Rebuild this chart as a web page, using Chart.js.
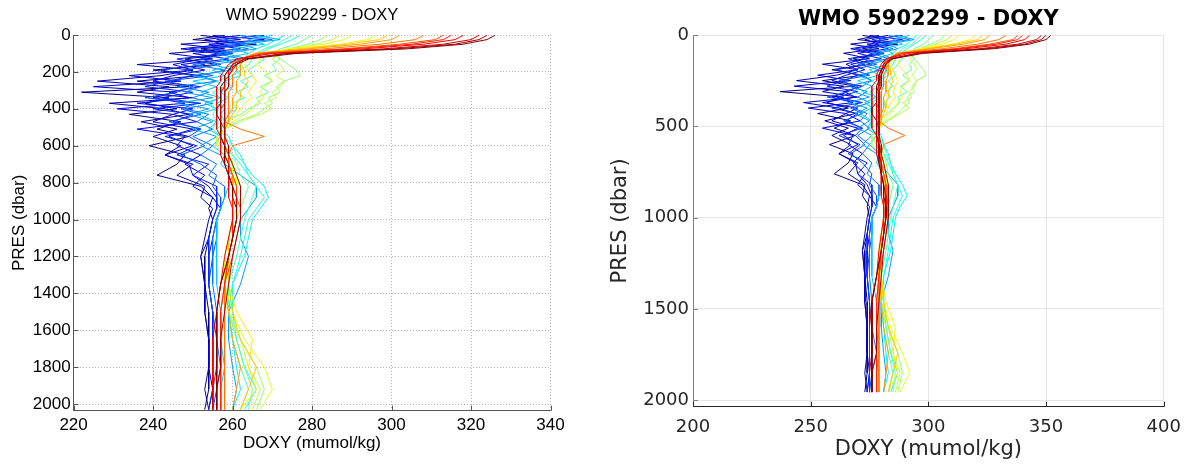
<!DOCTYPE html>
<html>
<head>
<meta charset="utf-8">
<script src="https://cdn.jsdelivr.net/npm/chart.js@4"></script>
<style>
  body { margin: 0; background: #fff; }
  #wrap { position: relative; width: 1191px; height: 467px; }
  canvas { position: absolute; top: 0; }
</style>
</head>
<body>
<div id="wrap">
  <canvas id="leftChart" width="600" height="467" style="left:0"></canvas>
  <canvas id="rightChart" width="591" height="467" style="left:600px"></canvas>
</div>
<script>
// pressure levels (dbar) of each profile
const PRES_L = [2, 25, 50, 75, 100, 130, 160, 190, 220, 250, 280, 310, 340, 370, 400, 430, 470, 510, 550, 600, 650, 700, 760, 820, 880, 940, 1000, 1100, 1200, 1350, 1500, 1650, 1800, 1920, 2030];
const PRES_R = [2, 25, 50, 75, 100, 130, 160, 190, 220, 250, 280, 310, 340, 370, 400, 430, 470, 510, 550, 600, 650, 700, 760, 820, 880, 940, 1000, 1090, 1180, 1320, 1460, 1600, 1740, 1850, 1955];

// left panel, DOXY per cycle (first cycle = dark blue, last = dark red)
const L01 = [258, 250, 266, 252, 260, 248, 256, 240, 252, 236, 249, 222, 244, 238, 246, 234, 247, 241, 249, 239, 248, 246, 241, 252, 255, 254, 255, 254, 253, 253, 254, 254, 254, 254, 253];
const L02 = [252, 262, 247, 258, 244, 255, 236, 250, 242, 226, 244, 236, 250, 229, 243, 249, 237, 246, 240, 247, 243, 250, 246, 253, 252, 255, 254, 253, 252, 253, 253, 254, 254, 253, 254];
const L03 = [262, 253, 258, 247, 256, 252, 245, 250, 234, 247, 225, 246, 240, 248, 231, 245, 240, 250, 244, 250, 243, 249, 250, 254, 256, 256, 255, 254, 252, 253, 253, 254, 254, 255, 254];
const L04 = [255, 268, 254, 262, 250, 259, 247, 253, 245, 240, 252, 244, 249, 236, 250, 245, 251, 236, 248, 246, 252, 248, 253, 250, 255, 257, 256, 255, 254, 254, 255, 255, 255, 255, 255];
const L05 = [268, 256, 262, 249, 258, 246, 253, 242, 250, 244, 238, 250, 242, 252, 240, 250, 245, 252, 243, 251, 246, 254, 250, 256, 256, 256, 255, 254, 254, 254, 255, 255, 255, 255, 254];
const L06 = [266, 258, 263, 255, 260, 252, 257, 248, 255, 243, 250, 246, 238, 251, 247, 252, 244, 252, 249, 253, 247, 252, 256, 255, 257, 257, 256, 256, 255, 254, 255, 256, 256, 256, 255];
const L07 = [262, 270, 258, 264, 256, 262, 250, 258, 252, 256, 246, 254, 250, 255, 248, 254, 251, 255, 250, 255, 252, 256, 254, 258, 258, 257, 256, 255, 255, 255, 256, 256, 257, 256, 256];
const L08 = [266, 272, 262, 266, 258, 264, 255, 260, 250, 256, 252, 248, 255, 246, 254, 249, 255, 250, 256, 252, 257, 258, 262, 266, 266, 264, 262, 262, 264, 262, 259, 259, 260, 261, 260];
const L09 = [270, 264, 268, 260, 264, 257, 261, 255, 258, 250, 256, 252, 257, 253, 256, 251, 256, 254, 257, 255, 258, 257, 260, 259, 258, 257, 256, 256, 256, 256, 257, 257, 258, 257, 257];
const L10 = [273, 271, 269, 266, 264, 263, 262, 261, 262, 258, 260, 257, 259, 256, 258, 257, 258, 257, 259, 260, 262, 263, 265, 268, 269, 267, 265, 264, 263, 260, 259, 260, 261, 262, 260];
const L11 = [277, 275, 272, 269, 267, 265, 264, 262, 260, 256, 258, 255, 257, 254, 256, 255, 256, 255, 257, 258, 260, 262, 264, 266, 268, 266, 264, 263, 262, 260, 260, 261, 263, 266, 263];
const L12 = [275, 273, 271, 268, 266, 268, 266, 264, 265, 262, 264, 261, 263, 260, 261, 259, 258, 257, 258, 260, 261, 263, 264, 266, 265, 264, 263, 262, 261, 259, 259, 260, 262, 264, 262];
const L13 = [280, 278, 276, 272, 270, 272, 270, 271, 268, 270, 267, 269, 266, 267, 264, 262, 258, 256, 257, 258, 260, 261, 262, 264, 263, 262, 261, 260, 259, 258, 259, 261, 263, 265, 264];
const L14 = [284, 282, 279, 274, 271, 272, 274, 276, 277, 273, 271, 272, 269, 270, 268, 266, 261, 258, 256, 257, 259, 260, 261, 262, 262, 261, 260, 259, 258, 258, 259, 262, 266, 268, 266];
const L15 = [287, 285, 281, 276, 272, 270, 272, 273, 271, 273, 272, 270, 271, 268, 270, 267, 262, 258, 256, 256, 258, 260, 260, 262, 262, 262, 261, 260, 259, 258, 259, 262, 264, 267, 265];
const L16 = [290, 288, 283, 274, 268, 267, 266, 268, 269, 270, 268, 267, 268, 266, 265, 263, 260, 258, 257, 258, 259, 260, 261, 261, 261, 260, 260, 259, 258, 258, 260, 263, 268, 270, 267];
const L17 = [296, 294, 287, 276, 266, 264, 263, 264, 265, 266, 265, 264, 265, 263, 262, 261, 259, 258, 258, 258, 259, 259, 260, 260, 260, 260, 260, 259, 259, 259, 261, 265, 264, 266, 262];
const L18 = [299, 297, 289, 277, 265, 263, 262, 263, 263, 264, 263, 262, 262, 261, 261, 260, 259, 258, 258, 258, 259, 259, 260, 261, 261, 260, 260, 259, 259, 259, 260, 262, 266, 264, 262];
const L19 = [302, 300, 292, 279, 266, 263, 262, 262, 262, 261, 261, 261, 260, 260, 260, 259, 259, 258, 258, 258, 259, 259, 260, 260, 261, 261, 261, 260, 259, 258, 259, 260, 262, 261, 260];
const L20 = [308, 306, 297, 283, 266, 262, 261, 261, 260, 260, 260, 259, 259, 259, 259, 259, 258, 262, 268, 260, 259, 259, 260, 261, 261, 261, 261, 260, 259, 258, 258, 258, 258, 258, 258];
const L21 = [313, 311, 302, 288, 268, 262, 260, 260, 259, 259, 259, 258, 258, 258, 258, 258, 258, 258, 258, 258, 259, 259, 260, 261, 261, 262, 262, 261, 260, 258, 257, 257, 257, 257, 257];
const L22 = [315, 313, 305, 290, 268, 261, 260, 259, 259, 258, 258, 258, 258, 258, 257, 257, 257, 258, 258, 258, 258, 259, 259, 260, 260, 260, 260, 260, 259, 258, 257, 257, 257, 257, 257];
const L23 = [318, 316, 308, 293, 270, 261, 259, 258, 257, 257, 256, 256, 256, 256, 256, 256, 256, 256, 257, 257, 257, 258, 259, 259, 259, 260, 260, 259, 258, 257, 256, 255, 255, 255, 255];
const L24 = [322, 320, 313, 298, 273, 263, 260, 259, 258, 258, 258, 257, 257, 257, 257, 257, 257, 257, 257, 258, 258, 259, 259, 260, 261, 261, 261, 260, 259, 257, 256, 256, 256, 255, 255];
const L25 = [324, 322, 316, 301, 274, 263, 261, 260, 259, 259, 259, 258, 258, 258, 258, 258, 258, 258, 258, 259, 259, 260, 261, 262, 262, 262, 262, 261, 260, 259, 258, 257, 257, 256, 256];
const L26 = [326, 324, 318, 304, 276, 264, 261, 259, 258, 258, 257, 257, 257, 257, 256, 256, 257, 257, 257, 258, 258, 258, 259, 260, 260, 261, 261, 260, 259, 257, 256, 256, 256, 256, 256];

// right panel, DOXY per cycle
const R01 = [279, 270, 287, 272, 281, 268, 276, 259, 272, 255, 269, 237, 264, 257, 266, 253, 267, 260, 269, 258, 268, 266, 260, 272, 275, 274, 275, 274, 273, 273, 274, 274, 274, 274, 273];
const R02 = [272, 283, 267, 279, 264, 275, 255, 270, 261, 244, 264, 255, 270, 247, 262, 269, 256, 266, 259, 267, 262, 270, 266, 273, 272, 275, 274, 273, 272, 273, 273, 274, 274, 273, 274];
const R03 = [283, 273, 279, 267, 276, 272, 265, 270, 253, 267, 243, 266, 259, 268, 249, 265, 259, 270, 264, 270, 262, 269, 270, 274, 276, 276, 275, 274, 272, 273, 273, 274, 274, 275, 274];
const R04 = [275, 289, 274, 283, 270, 280, 267, 273, 265, 259, 272, 264, 269, 255, 270, 265, 271, 255, 268, 266, 272, 268, 273, 270, 275, 278, 276, 275, 274, 274, 275, 275, 275, 275, 275];
const R05 = [289, 276, 283, 269, 279, 266, 273, 261, 270, 264, 257, 270, 261, 272, 259, 270, 265, 272, 262, 271, 266, 274, 270, 276, 276, 276, 275, 274, 274, 274, 275, 275, 275, 275, 274];
const R06 = [287, 279, 284, 275, 281, 272, 278, 268, 275, 262, 270, 266, 257, 271, 267, 272, 264, 272, 269, 273, 267, 272, 276, 275, 278, 278, 276, 276, 275, 274, 275, 276, 276, 276, 275];
const R07 = [283, 292, 279, 285, 276, 283, 270, 279, 272, 276, 266, 274, 270, 275, 268, 274, 271, 275, 270, 275, 272, 276, 274, 279, 279, 278, 276, 275, 275, 275, 276, 276, 278, 276, 276];
const R08 = [287, 294, 283, 287, 279, 285, 275, 281, 270, 276, 272, 268, 275, 266, 274, 269, 275, 270, 276, 272, 278, 279, 283, 287, 287, 285, 283, 283, 285, 283, 280, 280, 281, 282, 281];
const R09 = [292, 285, 289, 281, 285, 278, 282, 275, 279, 270, 276, 272, 278, 273, 276, 271, 276, 274, 278, 275, 279, 278, 281, 280, 279, 278, 276, 276, 276, 276, 278, 278, 279, 278, 278];
const R10 = [295, 293, 291, 287, 285, 284, 283, 282, 283, 279, 281, 278, 280, 276, 279, 278, 279, 278, 280, 281, 283, 284, 286, 289, 291, 288, 286, 285, 284, 281, 280, 281, 282, 283, 281];
const R11 = [299, 297, 294, 291, 288, 286, 285, 283, 281, 276, 279, 275, 278, 274, 276, 275, 276, 275, 278, 279, 281, 283, 285, 287, 289, 287, 285, 284, 283, 281, 281, 282, 284, 287, 284];
const R12 = [297, 295, 293, 289, 287, 289, 287, 285, 286, 283, 285, 282, 284, 281, 282, 280, 279, 278, 279, 281, 282, 284, 285, 287, 286, 285, 284, 283, 282, 280, 280, 281, 283, 285, 283];
const R13 = [302, 300, 298, 294, 292, 294, 292, 293, 289, 292, 288, 291, 287, 288, 285, 283, 279, 276, 278, 279, 281, 282, 283, 285, 284, 283, 282, 281, 280, 279, 280, 282, 284, 286, 285];
const R14 = [307, 305, 301, 296, 293, 294, 296, 298, 299, 295, 293, 294, 291, 292, 289, 287, 282, 279, 276, 278, 280, 281, 282, 283, 283, 282, 281, 280, 279, 279, 280, 283, 287, 289, 287];
const R15 = [310, 308, 303, 298, 294, 292, 294, 295, 293, 295, 294, 292, 293, 289, 292, 288, 283, 279, 276, 276, 279, 281, 281, 283, 283, 283, 282, 281, 280, 279, 280, 283, 285, 288, 286];
const R16 = [313, 311, 306, 296, 289, 288, 287, 289, 291, 292, 289, 288, 289, 287, 286, 284, 281, 279, 278, 279, 280, 281, 282, 282, 282, 281, 281, 280, 279, 279, 281, 284, 289, 292, 288];
const R17 = [320, 318, 310, 298, 287, 285, 284, 285, 286, 287, 286, 285, 286, 284, 283, 282, 280, 279, 279, 279, 280, 280, 281, 281, 281, 281, 281, 280, 280, 280, 282, 286, 285, 287, 283];
const R18 = [323, 321, 312, 299, 286, 284, 283, 284, 284, 285, 284, 283, 283, 282, 282, 281, 280, 279, 279, 279, 280, 280, 281, 282, 282, 281, 281, 280, 280, 280, 281, 283, 287, 285, 283];
const R19 = [326, 324, 315, 301, 287, 284, 283, 283, 283, 282, 282, 282, 281, 281, 281, 280, 280, 279, 279, 279, 280, 280, 281, 281, 282, 282, 282, 281, 280, 279, 280, 281, 283, 282, 281];
const R20 = [333, 330, 321, 306, 287, 283, 282, 282, 281, 281, 281, 280, 280, 280, 280, 280, 279, 283, 290, 281, 280, 280, 281, 282, 282, 282, 282, 281, 280, 279, 279, 279, 279, 279, 279];
const R21 = [338, 336, 326, 311, 289, 283, 281, 281, 280, 280, 280, 279, 279, 279, 279, 279, 279, 279, 279, 279, 280, 280, 281, 282, 282, 283, 283, 282, 281, 279, 278, 278, 278, 278, 278];
const R22 = [340, 338, 329, 313, 289, 282, 281, 280, 280, 279, 279, 279, 279, 279, 278, 278, 278, 279, 279, 279, 279, 280, 280, 281, 281, 281, 281, 281, 280, 279, 278, 278, 278, 278, 278];
const R23 = [343, 341, 333, 316, 292, 282, 280, 279, 278, 278, 276, 276, 276, 276, 276, 276, 276, 276, 278, 278, 278, 279, 280, 280, 280, 281, 281, 280, 279, 278, 276, 275, 275, 275, 275];
const R24 = [348, 346, 338, 322, 295, 284, 281, 280, 279, 279, 279, 278, 278, 278, 278, 278, 278, 278, 278, 279, 279, 280, 280, 281, 282, 282, 282, 281, 280, 278, 276, 276, 276, 275, 275];
const R25 = [350, 348, 341, 325, 296, 284, 282, 281, 280, 280, 280, 279, 279, 279, 279, 279, 279, 279, 279, 280, 280, 281, 282, 283, 283, 283, 283, 282, 281, 280, 279, 278, 278, 276, 276];
const R26 = [352, 350, 343, 328, 298, 285, 282, 280, 279, 279, 278, 278, 278, 278, 276, 276, 278, 278, 278, 279, 279, 279, 280, 281, 281, 282, 282, 281, 280, 278, 276, 276, 276, 276, 276];

const LEFT_PROFILES = [L01, L02, L03, L04, L05, L06, L07, L08, L09, L10, L11, L12, L13, L14, L15, L16, L17, L18, L19, L20, L21, L22, L23, L24, L25, L26];
const RIGHT_PROFILES = [R01, R02, R03, R04, R05, R06, R07, R08, R09, R10, R11, R12, R13, R14, R15, R16, R17, R18, R19, R20, R21, R22, R23, R24, R25, R26];

// tick labels
const X_TICKS_L = [220, 240, 260, 280, 300, 320, 340];
const Y_TICKS_L = [0, 200, 400, 600, 800, 1000, 1200, 1400, 1600, 1800, 2000];
const X_TICKS_R = [200, 250, 300, 350, 400];
const Y_TICKS_R = [0, 500, 1000, 1500, 2000];

const TITLE = 'WMO 5902299 - DOXY';
const X_LABEL = 'DOXY (mumol/kg)';
const Y_LABEL = 'PRES (dbar)';

// matlab jet colormap
function jet(t) {
    const c = v => Math.round(255 * Math.max(0, Math.min(1, v)));
    return 'rgb(' + c(1.5 - Math.abs(4 * t - 3)) + ',' + c(1.5 - Math.abs(4 * t - 2)) + ',' + c(1.5 - Math.abs(4 * t - 1)) + ')';
}

function buildDatasets(profiles, pres) {
    const n = profiles.length;
    return profiles.map((prof, i) => ({
        data: prof.map((v, k) => ({ x: v, y: pres[k] })),
        borderColor: jet(i / (n - 1)),
        borderWidth: 1,
        pointRadius: 0,
        showLine: true,
        order: n - 1 - i   // later cycles drawn on top
    }));
}

// tick marks drawn inward, like matlab
const innerTicks = {
    id: 'innerTicks',
    afterDraw(chart, args, opts) {
        const { ctx, chartArea: a, scales: { x, y } } = chart;
        ctx.save();
        ctx.lineWidth = 1;
        ctx.strokeStyle = opts.xColor;
        ctx.beginPath();
        x.ticks.forEach(t => {
            const px = Math.round(x.getPixelForValue(t.value)) + 0.5;
            ctx.moveTo(px, a.bottom);
            ctx.lineTo(px, a.bottom - opts.len);
        });
        ctx.stroke();
        ctx.strokeStyle = opts.yColor;
        ctx.beginPath();
        y.ticks.forEach(t => {
            const py = Math.round(y.getPixelForValue(t.value)) + 0.5;
            ctx.moveTo(a.left, py);
            ctx.lineTo(a.left + opts.len, py);
        });
        ctx.stroke();
        ctx.restore();
    }
};

function makeChart(id, cfg) {
    const fam = cfg.family;
    return new Chart(document.getElementById(id), {
        type: 'scatter',
        data: { datasets: buildDatasets(cfg.profiles, cfg.pres) },
        plugins: [innerTicks],
        options: {
            responsive: false,
            animation: false,
            events: [],
            layout: { padding: { left: 0, right: cfg.padRight, top: 0, bottom: 0 } },
            plugins: {
                legend: { display: false },
                tooltip: { enabled: false },
                title: {
                    display: true,
                    text: TITLE,
                    fullSize: false,
                    color: '#000',
                    font: { family: fam, size: cfg.titleSize, weight: cfg.titleWeight, lineHeight: 1.2 },
                    padding: cfg.titlePad
                },
                innerTicks: { len: 5, xColor: cfg.xAxisColor, yColor: cfg.yAxisColor }
            },
            scales: {
                x: {
                    type: 'linear',
                    min: cfg.xTicks[0],
                    max: cfg.xTicks[cfg.xTicks.length - 1],
                    afterBuildTicks: s => { s.ticks = cfg.xTicks.map(v => ({ value: v })); },
                    afterFit: s => { s.height = cfg.xHeight; },
                    grid: { color: cfg.gridColor, drawTicks: false, lineWidth: 1 },
                    border: { display: true, color: cfg.xAxisColor, width: 1, dash: cfg.gridDash },
                    ticks: {
                        color: cfg.tickColor, padding: cfg.xTickPad, maxRotation: 0, autoSkip: false,
                        font: { family: fam, size: cfg.tickSize },
                        callback: v => String(v)
                    },
                    title: {
                        display: true, text: X_LABEL, color: cfg.tickColor,
                        font: { family: fam, size: cfg.labelSize, lineHeight: 1.2 },
                        padding: { top: 0, bottom: cfg.xTitlePad }
                    }
                },
                y: {
                    type: 'linear',
                    reverse: true,
                    min: 0,
                    max: cfg.yMax,
                    afterBuildTicks: s => { s.ticks = cfg.yTicks.map(v => ({ value: v })); },
                    afterFit: s => { s.width = cfg.yWidth; },
                    grid: { color: cfg.gridColor, drawTicks: false, lineWidth: 1 },
                    border: { display: true, color: cfg.yAxisColor, width: 1, dash: cfg.gridDash },
                    ticks: {
                        color: cfg.tickColor, padding: cfg.yTickPad, autoSkip: false,
                        font: { family: fam, size: cfg.tickSize },
                        callback: v => String(v)
                    },
                    title: {
                        display: true, text: Y_LABEL, color: cfg.tickColor,
                        font: { family: fam, size: cfg.labelSize, lineHeight: 1.2 },
                        padding: { top: cfg.yTitlePad, bottom: 0 }
                    }
                }
            }
        }
    });
}

makeChart('leftChart', {
    profiles: LEFT_PROFILES, pres: PRES_L,
    xTicks: X_TICKS_L, yTicks: Y_TICKS_L, yMax: 2036,
    family: '"Liberation Sans", Arial, sans-serif',
    titleSize: 16.5, titleWeight: 'normal', titlePad: { top: 5.1, bottom: 10.1 },
    tickSize: 17, labelSize: 17, tickColor: '#000',
    gridColor: '#b4b4b4', gridDash: [1, 2],
    xAxisColor: '#555', yAxisColor: '#555',
    padRight: 49.5, yWidth: 73.6, xHeight: 56.3,
    xTickPad: 4.1, yTickPad: 3, xTitlePad: 13.8, yTitlePad: 8.8
});

makeChart('rightChart', {
    profiles: RIGHT_PROFILES, pres: PRES_R,
    xTicks: X_TICKS_R, yTicks: Y_TICKS_R, yMax: 2035,
    family: '"DejaVu Sans", sans-serif',
    titleSize: 21, titleWeight: 'bold', titlePad: { top: 7.4, bottom: 2.4 },
    tickSize: 18, labelSize: 21, tickColor: '#262626',
    gridColor: '#e6e6e6', gridDash: [],
    xAxisColor: '#262626', yAxisColor: '#808080',
    padRight: 27.3, yWidth: 93, xHeight: 60.3,
    xTickPad: 9.5, yTickPad: 4, xTitlePad: 4.4, yTitlePad: 8.4
});
</script>
</body>
</html>
